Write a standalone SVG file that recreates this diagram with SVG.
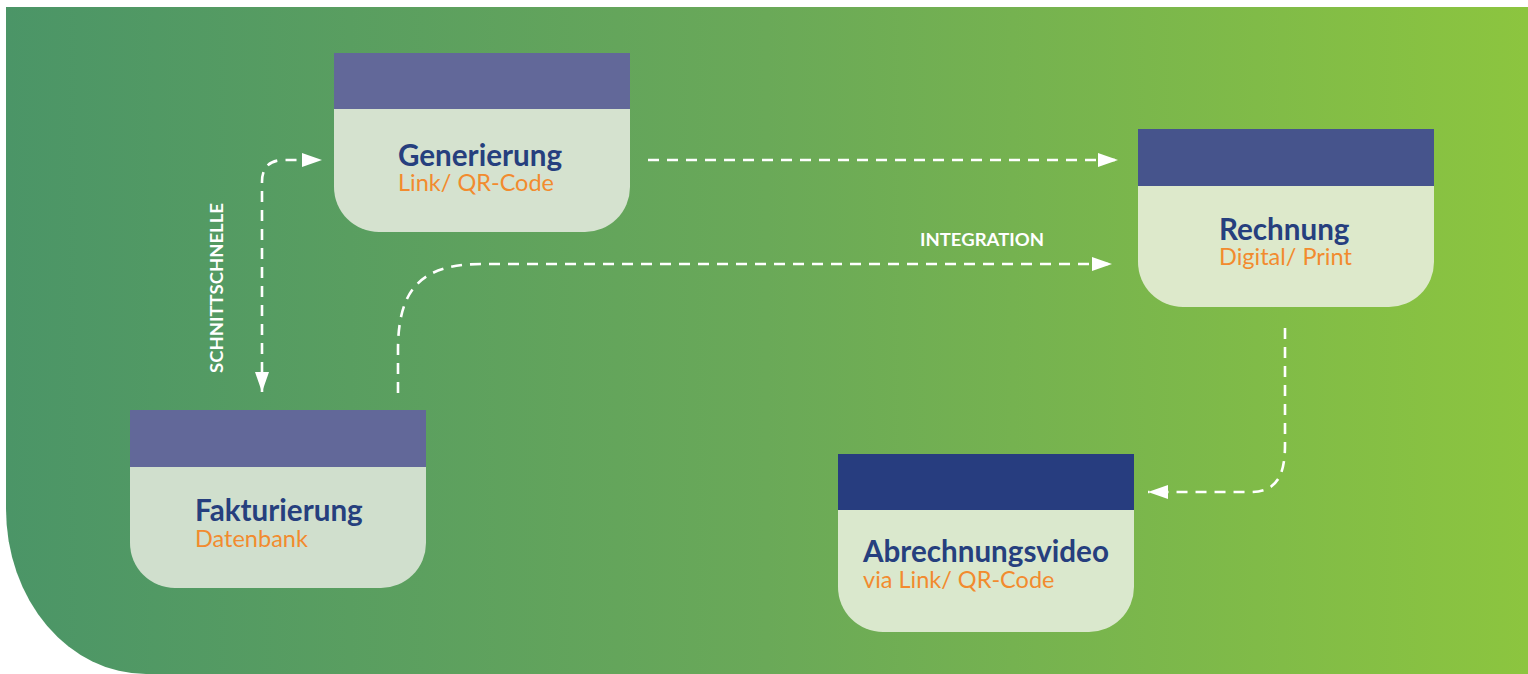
<svg xmlns="http://www.w3.org/2000/svg" width="1528" height="674" viewBox="0 0 1528 674">
  <defs>
    <linearGradient id="bg" x1="6" y1="0" x2="1528" y2="0" gradientUnits="userSpaceOnUse">
      <stop offset="0" stop-color="#4b9567"/>
      <stop offset="0.5" stop-color="#6aa958"/>
      <stop offset="1" stop-color="#8cc53f"/>
    </linearGradient>
    <marker id="arr" markerUnits="userSpaceOnUse" markerWidth="20" markerHeight="14" refX="20" refY="7" orient="auto-start-reverse">
      <path d="M0,0 L20,7 L0,14 Z" fill="#ffffff"/>
    </marker>
    <style>
      .title { font-family: Lato, "Liberation Sans", sans-serif; font-weight: 700; font-size: 29.6px; fill: #263f7e; }
      .sub { font-family: Lato, "Liberation Sans", sans-serif; font-weight: 400; font-size: 23.5px; fill: #f28b2e; }
      .lbl { font-family: Lato, "Liberation Sans", sans-serif; font-weight: 700; font-size: 16.5px; fill: #ffffff; }
      .conn { fill: none; stroke: #ffffff; stroke-width: 2.6; stroke-dasharray: 11 8; }
    </style>
  </defs>

  <rect x="0" y="0" width="1528" height="674" fill="#ffffff"/>
  <path id="background" d="M6,7 H1528 V674 H146 A140,165 0 0 1 6,509 Z" fill="url(#bg)"/>

  <g id="connectors">
    <path class="conn" d="M648,160 H1118" marker-end="url(#arr)"/>
    <path class="conn" d="M262,392 V182 Q262,160 284,160 H322" marker-start="url(#arr)" marker-end="url(#arr)"/>
    <path class="conn" d="M398,393 V350 C398,290 420,264 482,264 H1112" marker-end="url(#arr)"/>
    <path class="conn" d="M1285,328 V445 C1285,478 1275,492 1250,492 H1148" marker-end="url(#arr)"/>
    <text class="lbl" x="982" y="246" text-anchor="middle" textLength="124" lengthAdjust="spacingAndGlyphs">INTEGRATION</text>
    <text class="lbl" transform="translate(223,288) rotate(-90)" x="0" y="0" text-anchor="middle" textLength="170" lengthAdjust="spacingAndGlyphs">SCHNITTSCHNELLE</text>
  </g>

  <g id="node-generierung">
    <path d="M334,109 H630 V187 A45,45 0 0 1 585,232 H379 A45,45 0 0 1 334,187 Z" fill="#d5e2cf"/>
    <rect x="334" y="53" width="296" height="56" fill="#626899"/>
    <text class="title" x="398" y="166">Generierung</text>
    <text class="sub" x="398" y="191">Link/ QR-Code</text>
  </g>

  <g id="node-fakturierung">
    <path d="M130,467 H426 V543 A45,45 0 0 1 381,588 H175 A45,45 0 0 1 130,543 Z" fill="#d0dfcd"/>
    <rect x="130" y="410" width="296" height="57" fill="#626899"/>
    <text class="title" x="195" y="521">Fakturierung</text>
    <text class="sub" x="195" y="547">Datenbank</text>
  </g>

  <g id="node-rechnung">
    <path d="M1138,186 H1434 V262 A45,45 0 0 1 1389,307 H1183 A45,45 0 0 1 1138,262 Z" fill="#dde9cb"/>
    <rect x="1138" y="129" width="296" height="57" fill="#46548c"/>
    <text class="title" x="1219" y="240">Rechnung</text>
    <text class="sub" x="1219" y="265">Digital/ Print</text>
  </g>

  <g id="node-abrechnungsvideo">
    <path d="M838,510 H1134 V587 A45,45 0 0 1 1089,632 H883 A45,45 0 0 1 838,587 Z" fill="#dae8cd"/>
    <rect x="838" y="454" width="296" height="56" fill="#273d7f"/>
    <text class="title" x="863" y="562">Abrechnungsvideo</text>
    <text class="sub" x="863" y="588">via Link/ QR-Code</text>
  </g>
</svg>
